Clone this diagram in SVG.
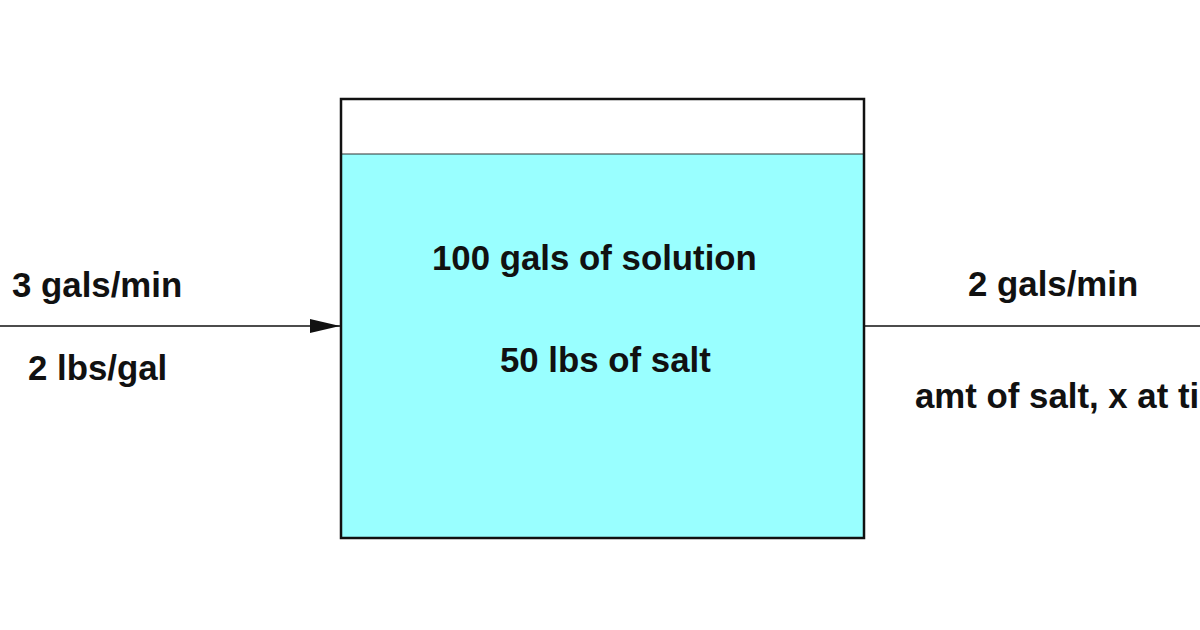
<svg xmlns="http://www.w3.org/2000/svg" width="1200" height="630" viewBox="0 0 1200 630">
<style>
text{font-family:"Liberation Sans",Arial,sans-serif;font-weight:bold;font-size:34.8px;fill:#111}
.ln{stroke:#111;stroke-width:1.6;fill:none}
</style>
<defs>
<marker id="ah" markerWidth="30" markerHeight="14" refX="30" refY="7" orient="auto" markerUnits="userSpaceOnUse">
<path d="M0,0 L30,7 L0,14 Z" fill="#111"/>
</marker>
</defs>
<rect width="1200" height="630" fill="#fff"/>
<g id="tank">
<rect x="341" y="154" width="523" height="384" fill="#99ffff"/>
<line x1="341" y1="154" x2="864" y2="154" stroke="#333" stroke-width="1.2"/>
<rect x="341" y="99" width="523" height="439" fill="none" stroke="#111" stroke-width="2.5"/>
<text x="432" y="270">100 gals of solution</text>
<text x="500" y="372">50 lbs of salt</text>
</g>
<g id="connectors">
<line class="ln" x1="0" y1="326" x2="340" y2="326" marker-end="url(#ah)"/>
<line class="ln" x1="864" y1="326" x2="1200" y2="326"/>
</g>
<g id="inflow">
<text x="12" y="297">3 gals/min</text>
<text x="28" y="380">2 lbs/gal</text>
</g>
<g id="outflow">
<text x="968" y="296">2 gals/min</text>
<text x="915" y="408">amt of salt, x at ti</text>
</g>
</svg>
